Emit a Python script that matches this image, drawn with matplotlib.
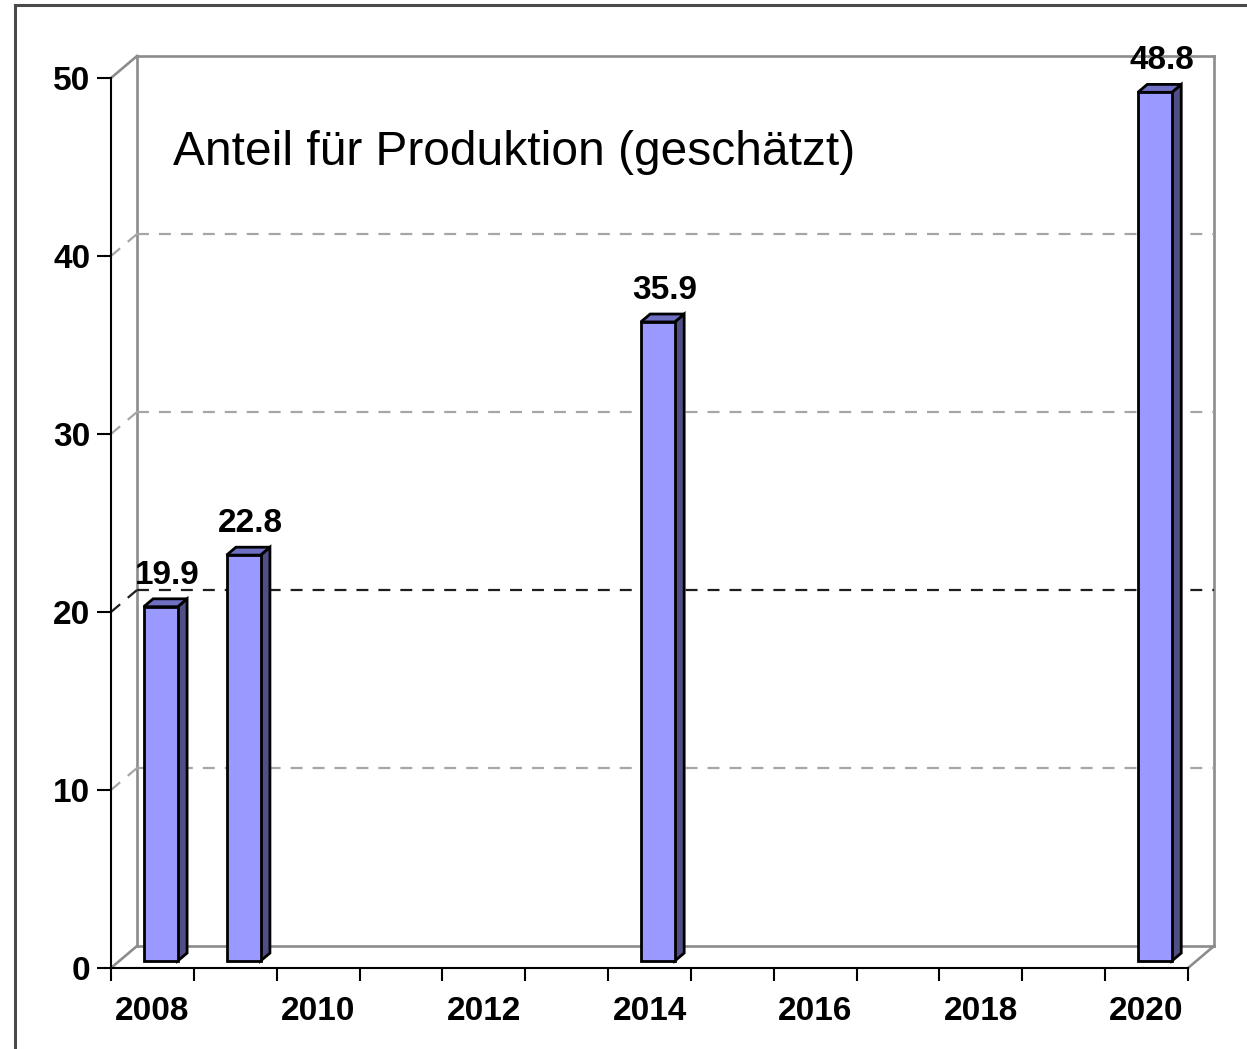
import numpy as np
import matplotlib
matplotlib.use('agg')
import matplotlib.pyplot as plt
from matplotlib.patches import Polygon
from matplotlib.lines import Line2D
from matplotlib.transforms import IdentityTransform

# data
years = list(range(2008, 2021))
bar_years = [2008, 2009, 2014, 2020]
bar_values = [19.9, 22.8, 35.9, 48.8]
y_ticks = [0, 10, 20, 30, 40, 50]
grid_values = [10, 20, 30, 40]
grid_colors = ['#a6a6a6', '#1e1e1e', '#a6a6a6', '#a6a6a6']
label_years = [2008, 2010, 2012, 2014, 2016, 2018, 2020]
title = 'Anteil für Produktion (geschätzt)'

plt.rcParams['font.family'] = ['Liberation Sans', 'DejaVu Sans']
plt.rcParams['lines.scale_dashes'] = False

W, H = 1247, 1049
fig = plt.figure(figsize=(W / 100, H / 100), dpi=100)
ax = fig.add_axes([111 / W, 81 / H, 1077 / W, 890 / H])
ax.set_xlim(-0.5, len(years) - 0.5)
ax.set_ylim(0, 50)
ax.patch.set_alpha(0)

DEPTH = np.array([26.0, 22.0])
BAR_F, BAR_B = 0.32, 0.68
BAR_W = 0.41


def px(x, y, d=0.0):
    # front-plane data point -> display pixels, pushed back by depth fraction d
    return ax.transData.transform((x, y)) + d * DEPTH


def seg(p, q, **kw):
    ax.add_line(Line2D([p[0], q[0]], [p[1], q[1]], transform=IdentityTransform(),
                       clip_on=False, **kw))


x_lo, x_hi = -0.5, len(years) - 0.5
wall = dict(color='#8c8c8c', lw=1.9, zorder=1)

# back wall + floor edges
seg(px(x_lo, 0, 1), px(x_lo, 50, 1), **wall)
seg(px(x_lo, 50, 1), px(x_hi, 50, 1), **wall)
seg(px(x_hi, 50, 1), px(x_hi, 0, 1), **wall)
seg(px(x_lo, 0, 1), px(x_hi, 0, 1), **wall)
seg(px(x_lo, 50, 0), px(x_lo, 50, 1), **wall)
seg(px(x_lo, 0, 0), px(x_lo, 0, 1), **wall)
seg(px(x_hi, 0, 0), px(x_hi, 0, 1), **wall)

# dashed grid on back wall and left wall
for v, c in zip(grid_values, grid_colors):
    kw = dict(color=c, lw=1.6, dashes=(8.6, 7.2), zorder=1)
    seg(px(x_lo, v, 1), px(x_hi, v, 1), **kw)
    seg(px(x_lo, v, 0), px(x_lo, v, 1), **kw)

# bars
for year, v in zip(bar_years, bar_values):
    i = years.index(year)
    x0, x1 = i - BAR_W / 2, i + BAR_W / 2
    front = [px(x0, 0, BAR_F), px(x1, 0, BAR_F), px(x1, v, BAR_F), px(x0, v, BAR_F)]
    side = [px(x1, 0, BAR_F), px(x1, 0, BAR_B), px(x1, v, BAR_B), px(x1, v, BAR_F)]
    top = [px(x0, v, BAR_F), px(x1, v, BAR_F), px(x1, v, BAR_B), px(x0, v, BAR_B)]
    for pts, col in ((side, '#4f4f86'), (top, '#6f6fc4'), (front, '#9999ff')):
        ax.add_patch(Polygon(pts, closed=True, transform=IdentityTransform(),
                             facecolor=col, edgecolor='black', lw=2.0,
                             joinstyle='miter', clip_on=False, zorder=3))
    ax.annotate(f'{v}', (i, v), xytext=(15, 30), textcoords='offset pixels',
                ha='center', va='baseline', fontsize=24, fontweight='bold',
                annotation_clip=False, zorder=4)

# axes / ticks
for s in ('top', 'right'):
    ax.spines[s].set_visible(False)
for s in ('left', 'bottom'):
    ax.spines[s].set_color('black')
    ax.spines[s].set_linewidth(1.5)

ax.set_yticks(y_ticks)
ax.set_yticklabels([str(t) for t in y_ticks], fontsize=24, fontweight='bold')
ax.tick_params(axis='y', direction='out', length=10, width=1.5, pad=5)

ax.set_xticks(np.arange(x_lo, x_hi + 0.01, 1))
ax.set_xticklabels([])
ax.tick_params(axis='x', which='major', direction='out', length=9.5, width=1.5)
ax.set_xticks([years.index(y) for y in label_years], minor=True)
ax.set_xticklabels([str(y) for y in label_years], minor=True, fontsize=24, fontweight='bold')
ax.tick_params(axis='x', which='minor', length=0, pad=20)

fig.text(173 / W, 1 - 165 / H, title, fontsize=34.5, va='baseline')

# outer frame
fig.add_artist(Line2D([15 / W, 15 / W], [1 - 5 / H, 0], transform=fig.transFigure,
                      color='#4a4a4a', lw=2.2))
fig.add_artist(Line2D([15 / W, 1], [1 - 5 / H, 1 - 5 / H], transform=fig.transFigure,
                      color='#4a4a4a', lw=2.2))

fig.savefig('out.png', dpi=100)
plt.close()
